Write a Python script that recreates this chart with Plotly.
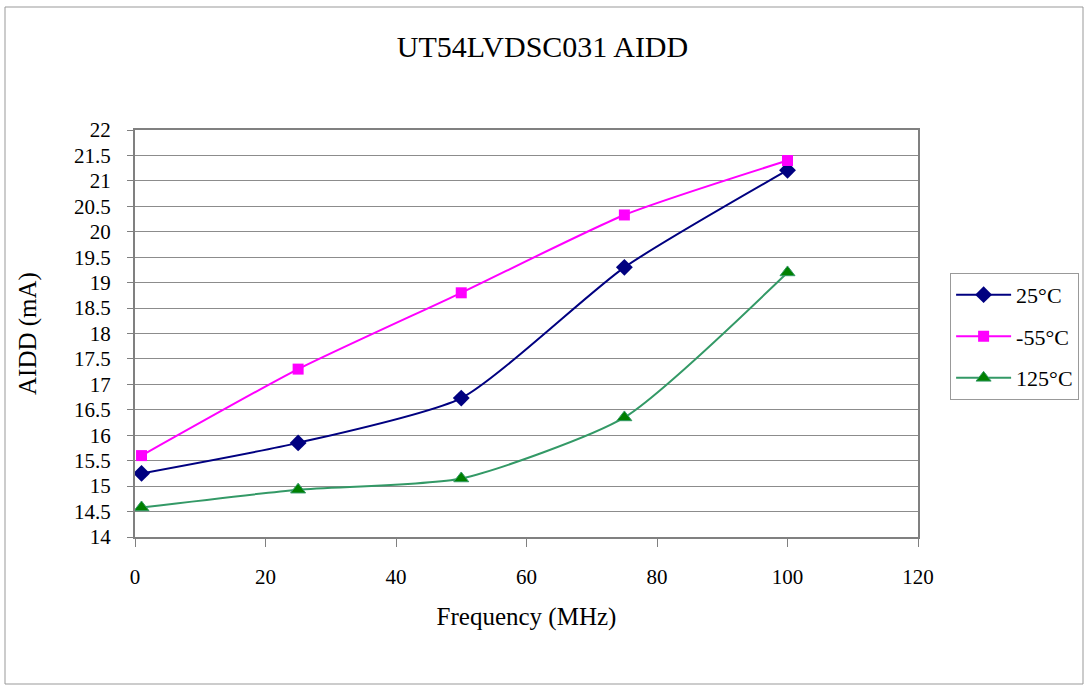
import plotly.graph_objects as go

freq = [1, 25, 50, 75, 100]
aidd_25 = [15.25, 15.85, 16.73, 19.30, 21.21]
aidd_m55 = [15.60, 17.30, 18.80, 20.33, 21.40]
aidd_125 = [14.58, 14.93, 15.15, 16.35, 19.20]

FONT = "Liberation Serif, Times New Roman, serif"

fig = go.Figure()
fig.add_trace(go.Scatter(x=freq, y=aidd_25, name="25°C", mode="lines+markers", legendgroup="a",
                         line=dict(color="#000080", width=2, shape="spline", smoothing=0.6),
                         marker=dict(symbol="diamond", size=13, color="#000080")))
fig.add_trace(go.Scatter(x=freq, y=aidd_m55, name="-55°C", mode="lines+markers", legendgroup="b",
                         line=dict(color="#FF00FF", width=2, shape="spline", smoothing=0.6),
                         marker=dict(symbol="square", size=11, color="#FF00FF")))
fig.add_trace(go.Scatter(x=freq, y=aidd_125, name="125°C", mode="lines+markers", legendgroup="c",
                         line=dict(color="#339966", width=2, shape="spline", smoothing=0.6),
                         marker=dict(symbol="triangle-up", size=13, color="#008000",
                                     line=dict(color="#339966", width=1))))

fig.update_layout(
    width=1085, height=687,
    margin=dict(l=135, r=167, t=130, b=150, autoexpand=False),
    paper_bgcolor="white", plot_bgcolor="white",
    font=dict(family=FONT, size=21, color="black"),
    title=dict(text="UT54LVDSC031 AIDD", x=0.5, xanchor="center", y=0.933, yanchor="middle",
               font=dict(family=FONT, size=30, color="black")),
    showlegend=True,
    legend=dict(x=1.041, xanchor="left", y=0.649, yanchor="top",
                bordercolor="#999999", borderwidth=1, bgcolor="white",
                font=dict(family=FONT, size=22), tracegroupgap=10, itemwidth=55),
    xaxis=dict(range=[0, 120], dtick=20, tick0=0, showgrid=False, zeroline=False,
               showline=True, linecolor="#808080", linewidth=2, mirror=True,
               ticks="outside", ticklen=8, tickcolor="#808080",
               ticklabelstandoff=12,
               title=dict(text="Frequency (MHz)", standoff=19, font=dict(family=FONT, size=25))),
    yaxis=dict(range=[14, 22], dtick=0.5, tick0=14, showgrid=True, gridcolor="#8c8c8c", gridwidth=1,
               zeroline=False, showline=True, linecolor="#808080", linewidth=2, mirror=True,
               ticks="outside", ticklen=6, tickcolor="#808080",
               ticklabelstandoff=12,
               title=dict(text="AIDD (mA)", standoff=30, font=dict(family=FONT, size=25))),
    shapes=[dict(type="rect", xref="paper", yref="paper",
                 x0=(5 - 135) / 783, x1=(1083 - 135) / 783,
                 y0=(537 - 684) / 407, y1=(537 - 7) / 407,
                 line=dict(color="#999999", width=1), fillcolor="rgba(0,0,0,0)", layer="below")],
)

fig.write_html("out.html", config={"displayModeBar": False},
               post_script="document.body.style.margin='0';document.body.style.overflow='hidden';")
